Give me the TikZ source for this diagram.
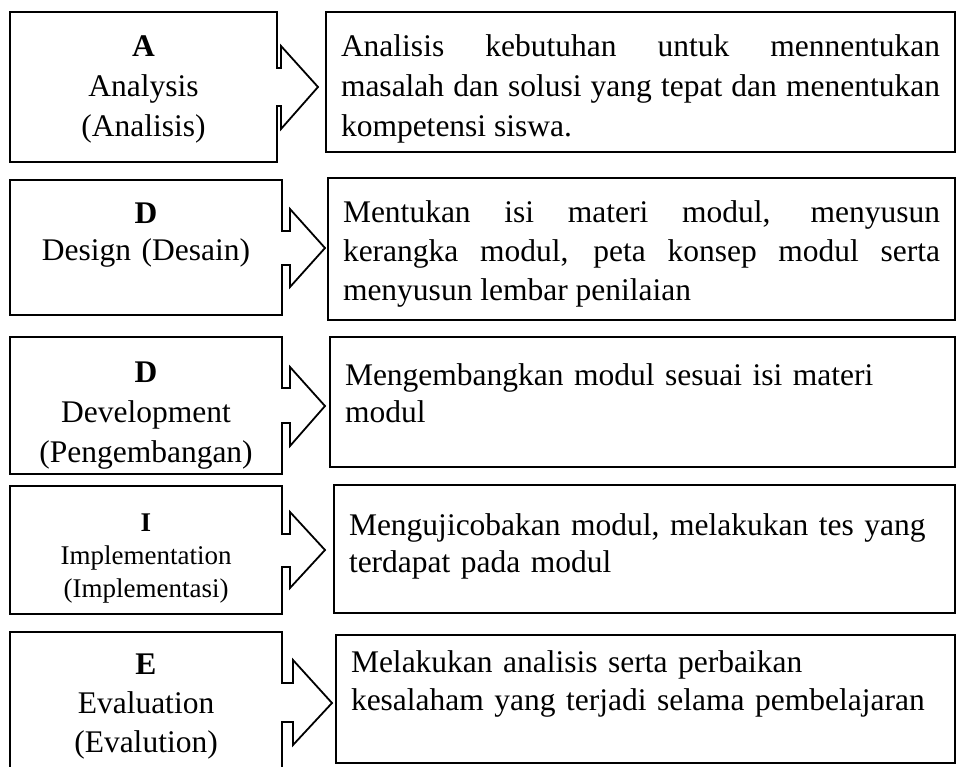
\documentclass[tikz,border=0pt]{standalone}
\usepackage{fontspec}
\setmainfont{Liberation Serif}
\begin{document}
\begin{tikzpicture}[x=1pt, y=-1pt, line width=1.8pt,
  phasebox/.style={rectangle, outer sep=0pt, inner sep=0pt, align=center, text height=0pt, font=\fontsize{31.5pt}{40pt}\selectfont},
  notebox/.style={draw, rectangle, outer sep=0pt, inner xsep=15pt, inner ysep=0pt, text height=0pt, font=\fontsize{31.5pt}{38.5pt}\selectfont}]
\useasboundingbox (0,0) rectangle (957,766);
\clip (0,0) rectangle (957,766);

\node[phasebox, text width=267pt, minimum height=150, text depth=62pt] (A1) at (143.5,87) {\textbf{A}\\Analysis\\(Analisis)};
\node[phasebox, text width=272pt, minimum height=135, text depth=49pt, font=\fontsize{31.5pt}{37pt}\selectfont] (D1) at (146,247.5) {\textbf{D}\\Design (Desain)};
\node[phasebox, text width=272pt, minimum height=137, text depth=47pt] (D2) at (146,405.5) {\textbf{D}\\Development\\(Pengembangan)};
\node[phasebox, text width=272pt, minimum height=128, text depth=38pt, font=\fontsize{27pt}{33pt}\selectfont] (I1) at (146,550) {\textbf{I}\\Implementation\\(Implementasi)};
\node[phasebox, text width=272pt, minimum height=143, text depth=59pt, font=\fontsize{31.5pt}{39pt}\selectfont] (E1) at (146,703.5) {\textbf{E}\\Evaluation\\(Evalution)};

\node[notebox, text width=599pt, minimum height=140, text depth=52pt, align=justify, font=\fontsize{31.5pt}{40pt}\selectfont] (A2) at (640.5,82) {Analisis kebutuhan untuk mennentukan\linebreak masalah dan solusi yang tepat dan menentukan\linebreak kompetensi siswa.};
\node[notebox, text width=597pt, minimum height=142, text depth=54pt, align=justify, font=\fontsize{31.5pt}{39pt}\selectfont] (D3) at (641.5,249) {Mentukan isi materi modul, menyusun\linebreak kerangka modul, peta konsep modul serta\linebreak menyusun lembar penilaian};
\node[notebox, text width=595pt, minimum height=130, text depth=34pt, align=left, font=\fontsize{31.5pt}{37pt}\selectfont] (D4) at (642.5,402) {Mengembangkan modul sesuai isi materi\\modul};
\node[notebox, text width=591pt, minimum height=128, text depth=28pt, align=left, font=\fontsize{31.5pt}{37pt}\selectfont] (I2) at (644.5,549) {Mengujicobakan modul, melakukan tes yang\\terdapat pada modul};
\node[notebox, text width=589pt, minimum height=128, text depth=54pt, align=left] (E2) at (645.5,699) {Melakukan analisis serta perbaikan\\kesalaham yang terjadi selama pembelajaran};

% boxes with the arrow callout on their right side
\draw (A1.south west) -- (A1.north west) -- (A1.north east) -- (277,68) -- (281,68) -- (281,46) -- (318,87) -- (281,129) -- (281,106) -- (277,106) -- (A1.south east) -- cycle;
\draw (D1.south west) -- (D1.north west) -- (D1.north east) -- (282,231) -- (290,231) -- (290,209) -- (325,248) -- (290,287) -- (290,265) -- (282,265) -- (D1.south east) -- cycle;
\draw (D2.south west) -- (D2.north west) -- (D2.north east) -- (282,388) -- (290,388) -- (290,367) -- (325,406) -- (290,446) -- (290,423) -- (282,423) -- (D2.south east) -- cycle;
\draw (I1.south west) -- (I1.north west) -- (I1.north east) -- (282,534) -- (290,534) -- (290,512) -- (325,550) -- (290,588) -- (290,567) -- (282,567) -- (I1.south east) -- cycle;
\draw (E1.south west) -- (E1.north west) -- (E1.north east) -- (282,683) -- (293,683) -- (293,660) -- (332,703) -- (293,745) -- (293,722) -- (282,722) -- (E1.south east) -- cycle;
\end{tikzpicture}
\end{document}
